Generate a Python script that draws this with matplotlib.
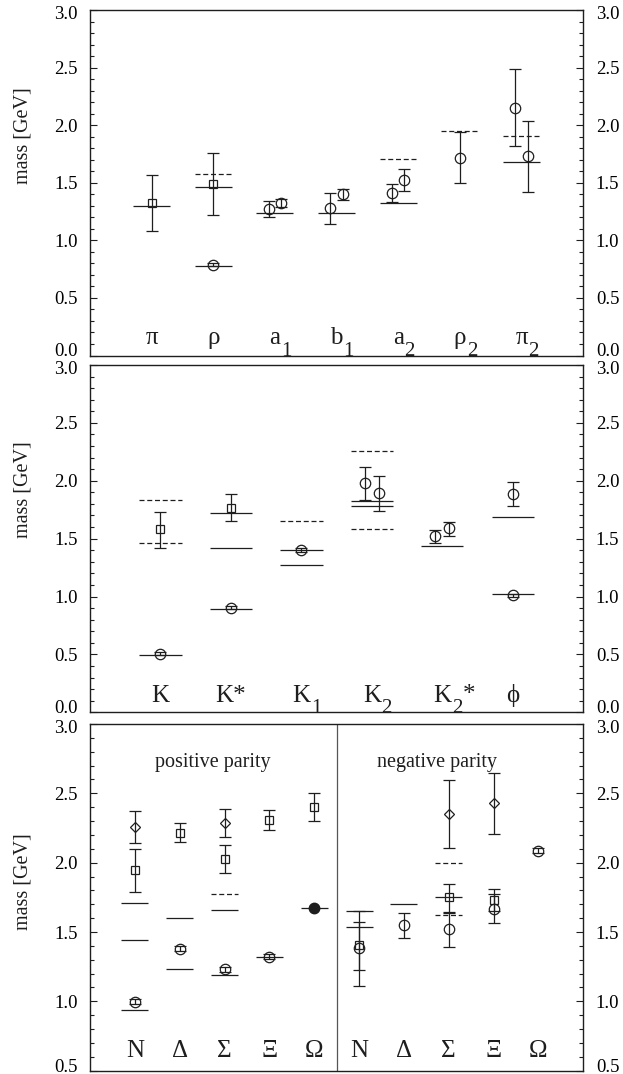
import numpy as np
import matplotlib as mpl; mpl.use('Agg')
import matplotlib.pyplot as plt
from matplotlib.ticker import FixedLocator, MultipleLocator, FormatStrFormatter

plt.rcParams['font.family'] = ['Liberation Serif', 'DejaVu Serif']

INK = '#1e1e1e'
LW = 0.9
HALF = 0.3      # half width of the reference mass bars
DODGE = 0.1     # shift for two overlapping points of one series

# --- isovector mesons  ("_" starts a subscript in the names)
iv_labels = ['π', 'ρ', 'a_1', 'b_1', 'a_2', 'ρ_2', 'π_2']
iv_circ_cat = [1, 2, 2, 3, 3, 4, 4, 5, 6, 6]
iv_circ_mass = [0.789, 1.275, 1.327, 1.277, 1.405, 1.410, 1.523, 1.714, 2.153, 1.731]
iv_circ_lo = [0.775, 1.199, 1.290, 1.142, 1.353, 1.329, 1.431, 1.497, 1.821, 1.419]
iv_circ_hi = [0.803, 1.341, 1.360, 1.413, 1.448, 1.488, 1.616, 1.939, 2.486, 2.040]
iv_sq_cat = [0, 1]
iv_sq_mass = [1.324, 1.488]
iv_sq_lo = [1.084, 1.223]
iv_sq_hi = [1.564, 1.754]
iv_exp_cat = [0, 1, 1, 2, 3, 4, 6]
iv_exp_mass = [1.300, 1.465, 0.780, 1.234, 1.234, 1.324, 1.676]
iv_tent_cat = [1, 4, 5, 6]
iv_tent_mass = [1.578, 1.705, 1.948, 1.902]

# --- strange and ss mesons
st_labels = ['K', 'K*', 'K_1', 'K_2', 'K_2*', 'ϕ']
st_circ_cat = [0, 1, 2, 3, 3, 4, 4, 5, 5]
st_circ_mass = [0.506, 0.902, 1.402, 1.980, 1.893, 1.520, 1.590, 1.884, 1.012]
st_circ_lo = [0.492, 0.888, 1.386, 1.838, 1.743, 1.465, 1.523, 1.783, 0.998]
st_circ_hi = [0.520, 0.916, 1.418, 2.116, 2.043, 1.575, 1.647, 1.986, 1.026]
st_sq_cat = [0, 1]
st_sq_mass = [1.581, 1.769]
st_sq_lo = [1.422, 1.653]
st_sq_hi = [1.734, 1.887]
st_exp_cat = [0, 1, 1, 1, 2, 2, 3, 3, 4, 5, 5]
st_exp_mass = [0.497, 1.723, 1.419, 0.893, 1.405, 1.272, 1.824, 1.780, 1.434, 1.685, 1.023]
st_tent_cat = [0, 0, 2, 3, 3]
st_tent_mass = [1.835, 1.462, 1.656, 2.257, 1.587]

# --- baryons, positive parity (0-4) and negative parity (5-9)
by_labels = ['N', 'Δ', 'Σ', 'Ξ', 'Ω'] * 2
by_parity = ['positive parity', 'negative parity']
by_circ_cat = [0, 1, 2, 3, 5, 6, 7, 8, 9]
by_circ_mass = [0.998, 1.380, 1.231, 1.320, 1.382, 1.550, 1.519, 1.666, 2.087]
by_circ_lo = [0.978, 1.360, 1.212, 1.302, 1.113, 1.459, 1.394, 1.563, 2.068]
by_circ_hi = [1.018, 1.400, 1.250, 1.338, 1.654, 1.639, 1.637, 1.772, 2.106]
by_sq_cat = [0, 1, 2, 3, 4, 5, 7, 8]
by_sq_mass = [1.945, 2.216, 2.026, 2.308, 2.404, 1.404, 1.750, 1.731]
by_sq_lo = [1.791, 2.147, 1.925, 2.236, 2.303, 1.226, 1.642, 1.655]
by_sq_hi = [2.096, 2.284, 2.127, 2.380, 2.500, 1.572, 1.846, 1.808]
by_dia_cat = [0, 2, 7, 8]
by_dia_mass = [2.255, 2.284, 2.351, 2.428]
by_dia_lo = [2.139, 2.188, 2.103, 2.206]
by_dia_hi = [2.375, 2.385, 2.596, 2.649]
by_fix_cat = [4]
by_fix_mass = [1.672]
by_exp_cat = [0, 0, 0, 1, 1, 2, 2, 3, 4, 5, 5, 6, 7]
by_exp_mass = [1.712, 1.442, 0.939, 1.599, 1.232, 1.659, 1.189, 1.318, 1.672,
               1.654, 1.534, 1.700, 1.750]
by_tent_cat = [2, 7, 7]
by_tent_mass = [1.772, 2.000, 1.623]


def draw_points(ax, cats, mass, lo, hi, marker, ms):
    cats = np.asarray(cats)
    mass = np.asarray(mass, float)
    lo = np.asarray(lo, float)
    hi = np.asarray(hi, float)
    x = cats + 1.0
    # two points of one series with overlapping ranges sit side by side
    for c in np.unique(cats):
        idx = np.flatnonzero(cats == c)
        if len(idx) == 2 and lo[idx].max() <= hi[idx].min():
            x[idx[0]] -= DODGE
            x[idx[1]] += DODGE
    ax.errorbar(x, mass, yerr=[mass - lo, hi - mass], fmt=marker, ms=ms,
                mfc='none', mec=INK, mew=LW, ecolor=INK, elinewidth=LW,
                capsize=4.5, capthick=LW, zorder=3)


def draw_bars(ax, cats, mass, ls):
    x = np.asarray(cats) + 1.0
    ax.hlines(mass, x - HALF, x + HALF, colors=INK, linewidth=LW,
              linestyles=ls, zorder=2)


def put_name(ax, x, y, name, trans):
    # main symbol centred on the column, subscript hanging low to its right
    main, _, tail = name.partition('_')
    t = ax.text(x, y, main, transform=trans, ha='center', va='baseline',
                fontsize=18, color=INK)
    if not tail:
        return
    s = ax.annotate(tail[0], xy=(1, 0), xycoords=t, xytext=(0.3, -4.5),
                    textcoords='offset points', ha='left', va='baseline',
                    fontsize=15, color=INK, annotation_clip=False)
    if tail[1:]:
        ax.annotate(tail[1:], xy=(1, 0), xycoords=(s, t), xytext=(0.5, 3.9),
                    textcoords='offset points', ha='left', va='baseline',
                    fontsize=18, color=INK, annotation_clip=False)


def style_axes(ax, ylim, ncat, labels, label_y, ylabel_y):
    ax.set_xlim(0, ncat + 1)
    ax.set_ylim(*ylim)
    ax.set_xticks([])
    for s in ax.spines.values():
        s.set_linewidth(1.0)
        s.set_color(INK)
    ax.yaxis.set_major_locator(FixedLocator(np.arange(ylim[0], ylim[1] + 0.01, 0.5)))
    ax.yaxis.set_minor_locator(MultipleLocator(0.1))
    ax.yaxis.set_major_formatter(FormatStrFormatter('%.1f'))
    ax.tick_params(axis='y', which='both', direction='in', color=INK,
                   left=True, right=True, labelleft=True, labelright=True,
                   labelsize=13.5, pad=9, width=0.8)
    ax.tick_params(axis='y', which='major', length=5)
    ax.tick_params(axis='y', which='minor', length=3)
    # end labels are nudged inwards so they stay beside the frame
    ticks = ax.yaxis.get_major_ticks()
    for tick, dy in ((ticks[0], 4.0), (ticks[-1], -2.0)):
        for lab in (tick.label1, tick.label2):
            lab.set_transform(lab.get_transform() +
                              mpl.transforms.ScaledTranslation(0, dy / 72, fig.dpi_scale_trans))
    trans = mpl.transforms.blended_transform_factory(ax.transData, ax.transAxes)
    for i, lab in enumerate(labels):
        put_name(ax, i + 1, label_y, lab, trans)
    ax.text(-0.136, ylabel_y, 'mass [GeV]', transform=ax.transAxes,
            rotation=90, ha='center', va='center', fontsize=14.5, color=INK)


fig = plt.figure(figsize=(6.23, 10.74), dpi=100)
W, H = 623, 1074


def px_axes(left, top, right, bottom):
    return fig.add_axes([left / W, 1 - bottom / H, (right - left) / W, (bottom - top) / H])


ax_iv = px_axes(90, 10, 583.3, 355.5)
ax_st = px_axes(90, 365, 583.3, 712.3)
ax_by = px_axes(90, 724, 583.3, 1070.7)

# isovector mesons
style_axes(ax_iv, (0, 3), len(iv_labels), iv_labels, 0.032, 0.636)
draw_bars(ax_iv, iv_exp_cat, iv_exp_mass, 'solid')
draw_bars(ax_iv, iv_tent_cat, iv_tent_mass, (0, (4, 2.2)))
draw_points(ax_iv, iv_circ_cat, iv_circ_mass, iv_circ_lo, iv_circ_hi, 'o', 7.5)
draw_points(ax_iv, iv_sq_cat, iv_sq_mass, iv_sq_lo, iv_sq_hi, 's', 6)

# strange mesons
style_axes(ax_st, (0, 3), len(st_labels), st_labels, 0.031, 0.64)
draw_bars(ax_st, st_exp_cat, st_exp_mass, 'solid')
draw_bars(ax_st, st_tent_cat, st_tent_mass, (0, (4, 2.2)))
draw_points(ax_st, st_circ_cat, st_circ_mass, st_circ_lo, st_circ_hi, 'o', 7.5)
draw_points(ax_st, st_sq_cat, st_sq_mass, st_sq_lo, st_sq_hi, 's', 6)

# baryons
style_axes(ax_by, (0.5, 3), len(by_labels), by_labels, 0.04, 0.545)
draw_bars(ax_by, by_exp_cat, by_exp_mass, 'solid')
draw_bars(ax_by, by_tent_cat, by_tent_mass, (0, (4, 2.2)))
draw_points(ax_by, by_circ_cat, by_circ_mass, by_circ_lo, by_circ_hi, 'o', 7.5)
draw_points(ax_by, by_sq_cat, by_sq_mass, by_sq_lo, by_sq_hi, 's', 6)
draw_points(ax_by, by_dia_cat, by_dia_mass, by_dia_lo, by_dia_hi, 'D', 4.8)
ax_by.plot(np.asarray(by_fix_cat) + 1.0, by_fix_mass, 'o', ms=7.5, color=INK, zorder=4)
half = len(by_labels) / 2
ax_by.axvline(half + 0.5, color='#555555', linewidth=LW)
for k, txt in enumerate(by_parity):
    ax_by.text(1 + 2 + k * half - 0.26, 2.69, txt, ha='center', va='baseline',
               fontsize=14.5, color=INK)

fig.savefig('out.png', dpi=100)
